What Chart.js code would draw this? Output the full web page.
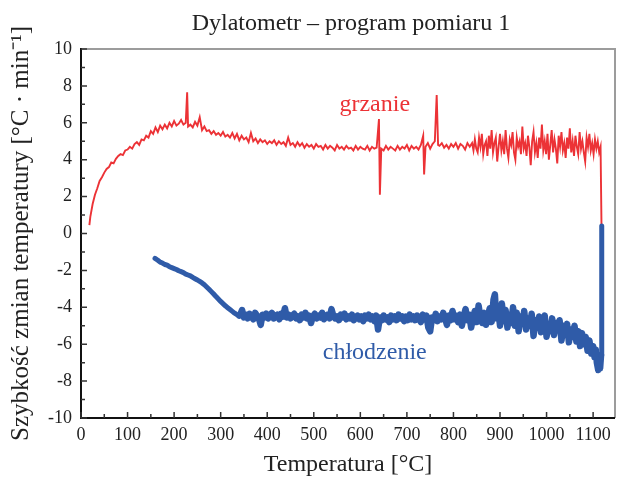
<!DOCTYPE html>
<html>
<head>
<meta charset="utf-8">
<script src="https://cdn.jsdelivr.net/npm/chart.js@4/dist/chart.umd.min.js"></script>
<style>
  html, body { margin: 0; padding: 0; background: #fff; }
  #wrap { width: 618px; height: 479px; }
</style>
</head>
<body>
<div id="wrap"><canvas id="c" width="618" height="479"></canvas></div>
<script>
// Heating run (grzanie): temperature [°C] and rate [°C/min]
const heatTemp = [18,20,25,30,35,40,45,50,55,60,65,70,75,80,85,90,95,100,105,110,115,120,125,130,135,140,145,150,155,160,165,170,175,180,185,190,195,200,205,210,215,220,225,228,230,235,240,245,250,255,260,265,270,275,280,285,290,295,300,305,310,315,320,325,330,335,340,345,350,355,360,365,370,375,380,385,390,395,400,405,410,415,420,425,430,435,440,445,450,455,460,465,470,475,480,485,490,495,500,505,510,515,520,525,530,535,540,545,550,555,560,565,570,575,580,585,590,595,600,605,610,615,620,625,630,635,640,642,645,650,655,660,665,670,675,680,685,690,695,700,705,710,715,720,725,730,735,737,740,745,750,755,760,764,767,770,775,780,785,790,795,800,805,810,815,820,825,830,835,
  840,843,846,849,852,855,858,861,864,867,870,873,876,879,882,885,888,891,894,897,900,903,906,909,912,915,918,921,924,927,930,933,936,939,942,945,948,951,954,957,960,963,966,969,972,975,978,981,984,987,990,993,996,999,1002,1005,1008,1011,1014,1017,1020,1023,1026,1029,1032,1035,1038,1041,1044,1047,1050,1053,1056,1059,1062,1065,1068,1071,1074,1077,1080,1083,1086,1089,1092,1095,1098,1101,1104,1107,1110,1113,1116,1118];
const heatRate = [0.45,0.9,1.6,2.1,2.45,2.85,3.05,3.3,3.5,3.6,3.85,3.8,4.05,4.2,4.3,4.25,4.5,4.55,4.7,4.6,4.85,4.95,4.8,5.1,5.05,5.3,5.2,5.55,5.4,5.75,5.5,5.85,5.65,5.9,5.7,6.0,5.8,6.1,5.85,5.95,6.15,5.9,6.0,7.65,5.8,5.9,5.75,6.05,5.85,6.3,5.6,5.8,5.55,5.6,5.4,5.55,5.35,5.45,5.3,5.5,5.25,5.35,5.2,5.45,5.15,5.4,5.05,5.3,5.1,5.2,4.95,5.45,5.0,5.15,4.9,5.1,4.95,5.05,4.85,5.0,4.9,5.05,4.8,5.0,4.85,4.95,4.75,5.2,4.8,4.9,4.7,4.95,4.75,4.9,4.65,4.85,4.7,4.8,4.6,4.85,4.7,4.75,4.55,4.8,4.6,4.75,4.65,4.5,4.8,4.6,4.7,4.55,4.75,4.6,4.65,4.5,4.75,4.55,4.7,4.6,4.55,4.75,4.5,4.7,4.6,4.65,6.2,2.1,4.6,4.5,4.75,4.55,4.7,4.6,4.5,4.75,4.55,4.7,4.6,4.8,4.5,4.75,4.6,4.7,4.55,4.8,5.3,3.2,4.7,4.9,4.6,4.85,5.0,7.5,4.8,4.75,4.9,4.65,4.8,4.6,4.85,4.7,4.9,4.6,4.85,4.75,4.55,4.9,4.7,
  4.9,4.5,5.1,4.6,4.4,5.2,4.7,5.4,4.3,4.8,
  5.0,4.2,5.3,4.6,5.6,4.4,4.9,5.2,3.9,4.7,
  5.4,4.5,5.0,4.3,5.6,4.6,4.1,5.1,4.8,5.5,
  4.4,4.0,5.2,4.7,5.0,4.3,5.8,4.6,4.9,4.2,
  5.3,4.7,3.7,5.0,5.5,4.4,4.9,4.1,5.2,4.6,
  5.9,4.5,5.0,4.3,5.4,4.0,4.8,5.6,4.4,5.1,
  4.6,3.8,5.3,4.7,5.5,4.5,4.9,4.1,5.2,4.6,
  5.7,4.4,5.0,4.2,5.3,4.7,4.3,5.5,4.6,5.0,
  4.4,3.9,5.2,4.7,5.4,4.5,4.9,4.3,5.1,4.6,
  5.0,4.4,4.7,0.4];

// Cooling run (chłodzenie): temperature [°C] and rate [°C/min]
const coolTemp = [159,165,170,175,180,185,190,195,200,205,210,215,220,225,230,235,240,245,250,255,260,265,270,275,280,285,290,295,300,305,310,315,320,325,330,335,340,
  342,346,350,354,358,362,366,370,374,378,382,386,390,394,398,402,406,410,414,418,422,426,430,434,438,442,446,450,454,458,462,466,470,474,478,482,486,490,494,498,
  502,506,510,514,518,522,526,530,534,538,542,546,550,554,558,562,566,570,574,578,582,586,590,594,598,602,606,610,614,618,622,626,630,634,638,642,646,650,654,658,
  662,666,670,674,678,682,686,690,694,698,702,706,710,714,718,722,726,730,734,738,742,746,750,754,758,762,766,770,774,778,782,786,790,794,798,802,806,810,814,818,
  822,826,830,834,838,842,846,850,854,858,862,866,870,874,878,882,886,889,892,896,900,904,908,912,916,920,924,928,932,936,940,944,948,952,956,960,964,968,972,976,
  980,984,988,992,996,1000,1004,1008,1012,1016,1020,1024,1028,1032,1036,1040,1044,1048,1052,1056,1060,1064,1068,1072,1076,1080,1084,1088,1092,1096,1100,1103,1106,1108,1111,1113,1115,1117,1118,1119];
const coolRate = [-1.35,-1.45,-1.55,-1.6,-1.68,-1.72,-1.8,-1.85,-1.9,-1.95,-2.02,-2.07,-2.12,-2.2,-2.25,-2.3,-2.38,-2.45,-2.52,-2.6,-2.68,-2.78,-2.9,-3.02,-3.15,-3.28,-3.42,-3.55,-3.68,-3.8,-3.92,-4.02,-4.12,-4.22,-4.32,-4.4,-4.45,
  -4.4,-4.15,-4.55,-4.4,-4.6,-4.35,-4.5,-4.65,-4.3,-4.45,-4.6,-4.95,-4.4,-4.55,-4.35,-4.6,-4.45,-4.3,-4.6,-4.5,-4.4,-4.65,-4.35,-4.5,-4.05,-4.55,-4.4,-4.6,-4.45,-4.35,-4.6,-4.5,-4.7,-4.4,-4.55,-4.3,-4.6,-4.45,-4.85,-4.5,
  -4.35,-4.6,-4.45,-4.55,-4.3,-4.65,-4.5,-4.4,-4.6,-4.1,-4.45,-4.6,-4.5,-4.7,-4.4,-4.55,-4.35,-4.65,-4.5,-4.6,-4.4,-4.7,-4.55,-4.45,-4.65,-4.5,-4.75,-4.45,-4.6,-4.4,-4.65,-4.5,-4.75,-4.45,-5.2,-4.55,-4.7,-4.45,-4.65,-4.55,
  -4.8,-4.45,-4.65,-4.5,-4.7,-4.4,-4.6,-4.5,-4.75,-4.5,-4.7,-4.4,-4.65,-4.5,-4.7,-4.45,-4.6,-4.8,-4.4,-4.65,-4.45,-5.1,-5.3,-4.55,-4.7,-4.35,-4.75,-4.5,-4.65,-4.3,-4.6,-4.95,-4.45,-4.7,-4.2,-4.65,-4.45,-4.8,-4.4,-5.0,
  -4.5,-4.1,-4.7,-4.4,-5.1,-4.55,-4.2,-4.8,-3.9,-4.55,-4.85,-4.3,-4.95,-4.45,-4.05,-4.8,-3.6,-3.3,-4.6,-4.05,-5.0,-3.8,-4.75,-4.15,-5.1,-4.4,-4.85,-4.0,-5.0,-4.3,-5.3,-4.5,-4.9,-4.2,-5.2,-4.6,-5.0,-4.35,-5.55,-4.7,
  -5.1,-4.5,-5.35,-4.8,-4.45,-5.6,-4.9,-5.3,-4.6,-5.5,-4.85,-5.2,-4.7,-5.8,-5.0,-5.5,-4.9,-5.9,-5.2,-5.6,-5.0,-5.85,-5.3,-6.1,-5.4,-6.0,-5.6,-6.35,-5.8,-6.5,-6.1,-6.7,-6.3,-7.0,-7.4,-6.8,-7.3,-6.6,-3.5,0.4];

// Axis tick values
const xTicks = [0,100,200,300,400,500,600,700,800,900,1000,1100];
const xMinorTicks = [50,150,250,350,450,550,650,750,850,950,1050];
const yTicks = [-10,-8,-6,-4,-2,0,2,4,6,8,10];
const yMinorTicks = [-9,-7,-5,-3,-1,1,3,5,7,9];

const RED = '#ec3236';
const BLUE = '#2f5ba8';
const FONT = "'Liberation Serif', 'Times New Roman', serif";

function pairs(xs, ys) { return xs.map((x, i) => ({x: x, y: ys[i]})); }

// Frame, inward tick marks, title and curve labels
const decorations = {
  id: 'decorations',
  afterDatasetsDraw(chart) {
    const {ctx, chartArea: a, scales: {x, y}} = chart;
    ctx.save();
    // top and right border (grey)
    ctx.strokeStyle = '#9c9c9c';
    ctx.lineWidth = 2;
    ctx.beginPath();
    ctx.moveTo(a.left, a.top);
    ctx.lineTo(a.right, a.top);
    ctx.lineTo(a.right, a.bottom);
    ctx.stroke();
    // left and bottom axis lines (black)
    ctx.strokeStyle = '#111';
    ctx.lineWidth = 2;
    ctx.beginPath();
    ctx.moveTo(a.left, a.top - 1);
    ctx.lineTo(a.left, a.bottom);
    ctx.lineTo(a.right, a.bottom);
    ctx.stroke();
    // inward ticks
    ctx.lineWidth = 1.5;
    ctx.strokeStyle = '#333';
    ctx.beginPath();
    xTicks.forEach(v => { const px = x.getPixelForValue(v); ctx.moveTo(px, a.bottom); ctx.lineTo(px, a.bottom - 6); });
    xMinorTicks.forEach(v => { const px = x.getPixelForValue(v); ctx.moveTo(px, a.bottom); ctx.lineTo(px, a.bottom - 4); });
    yTicks.forEach(v => { const py = y.getPixelForValue(v); ctx.moveTo(a.left, py); ctx.lineTo(a.left + 6, py); });
    yMinorTicks.forEach(v => { const py = y.getPixelForValue(v); ctx.moveTo(a.left, py); ctx.lineTo(a.left + 4, py); });
    ctx.stroke();
    // chart title
    ctx.fillStyle = '#222';
    ctx.font = '24px ' + FONT;
    ctx.textAlign = 'center';
    ctx.textBaseline = 'alphabetic';
    ctx.fillText('Dylatometr – program pomiaru 1', (a.left + a.right) / 2 + 3, 30);
    // curve labels
    ctx.font = '24px ' + FONT;
    ctx.fillStyle = RED;
    ctx.fillText('grzanie', x.getPixelForValue(631), y.getPixelForValue(6.66));
    ctx.fillStyle = BLUE;
    ctx.fillText('chłodzenie', x.getPixelForValue(631), y.getPixelForValue(-6.8));
    ctx.restore();
  }
};

new Chart(document.getElementById('c'), {
  type: 'line',
  data: {
    datasets: [
      {
        label: 'chłodzenie',
        data: pairs(coolTemp, coolRate),
        borderColor: BLUE,
        borderWidth: 5,
        pointRadius: 0,
        tension: 0,
        borderJoinStyle: 'round',
        borderCapStyle: 'round',
        // the noisy plateau is drawn as a wider band
        segment: { borderWidth: c => (c.p0.parsed.x >= 340 && c.p1.parsed.x < 1118 ? 6.5 : 5) }
      },
      {
        label: 'grzanie',
        data: pairs(heatTemp, heatRate),
        borderColor: RED,
        borderWidth: 1.9,
        pointRadius: 0,
        tension: 0
      }
    ]
  },
  options: {
    responsive: false,
    animation: false,
    layout: { padding: { top: 49, right: 3, left: 0, bottom: 0 } },
    plugins: { legend: { display: false }, tooltip: { enabled: false }, title: { display: false } },
    scales: {
      x: {
        type: 'linear',
        min: 0,
        max: 1147,
        afterFit(s) { s.height = 61; },
        afterBuildTicks(s) { s.ticks = xTicks.map(v => ({ value: v })); },
        ticks: { padding: 6, color: '#222', font: { family: FONT, size: 18 }, maxRotation: 0, autoSkip: false, callback: v => String(v) },
        grid: { display: false, drawTicks: false },
        border: { display: false },
        title: { display: true, text: 'Temperatura [°C]', color: '#222', font: { family: FONT, size: 24 }, padding: { top: 0, bottom: 0 } }
      },
      y: {
        type: 'linear',
        min: -10,
        max: 10,
        afterFit(s) { s.width = 81; },
        afterBuildTicks(s) { s.ticks = yTicks.map(v => ({ value: v })); },
        ticks: { padding: 9, color: '#222', font: { family: FONT, size: 18 }, autoSkip: false, callback: v => String(v) },
        grid: { display: false, drawTicks: false },
        border: { display: false },
        title: { display: true, text: 'Szybkość zmian temperatury [°C · min⁻¹]', color: '#222', font: { family: FONT, size: 25 }, padding: { top: 6, bottom: 0 } }
      }
    }
  },
  plugins: [decorations]
});
</script>
</body>
</html>
